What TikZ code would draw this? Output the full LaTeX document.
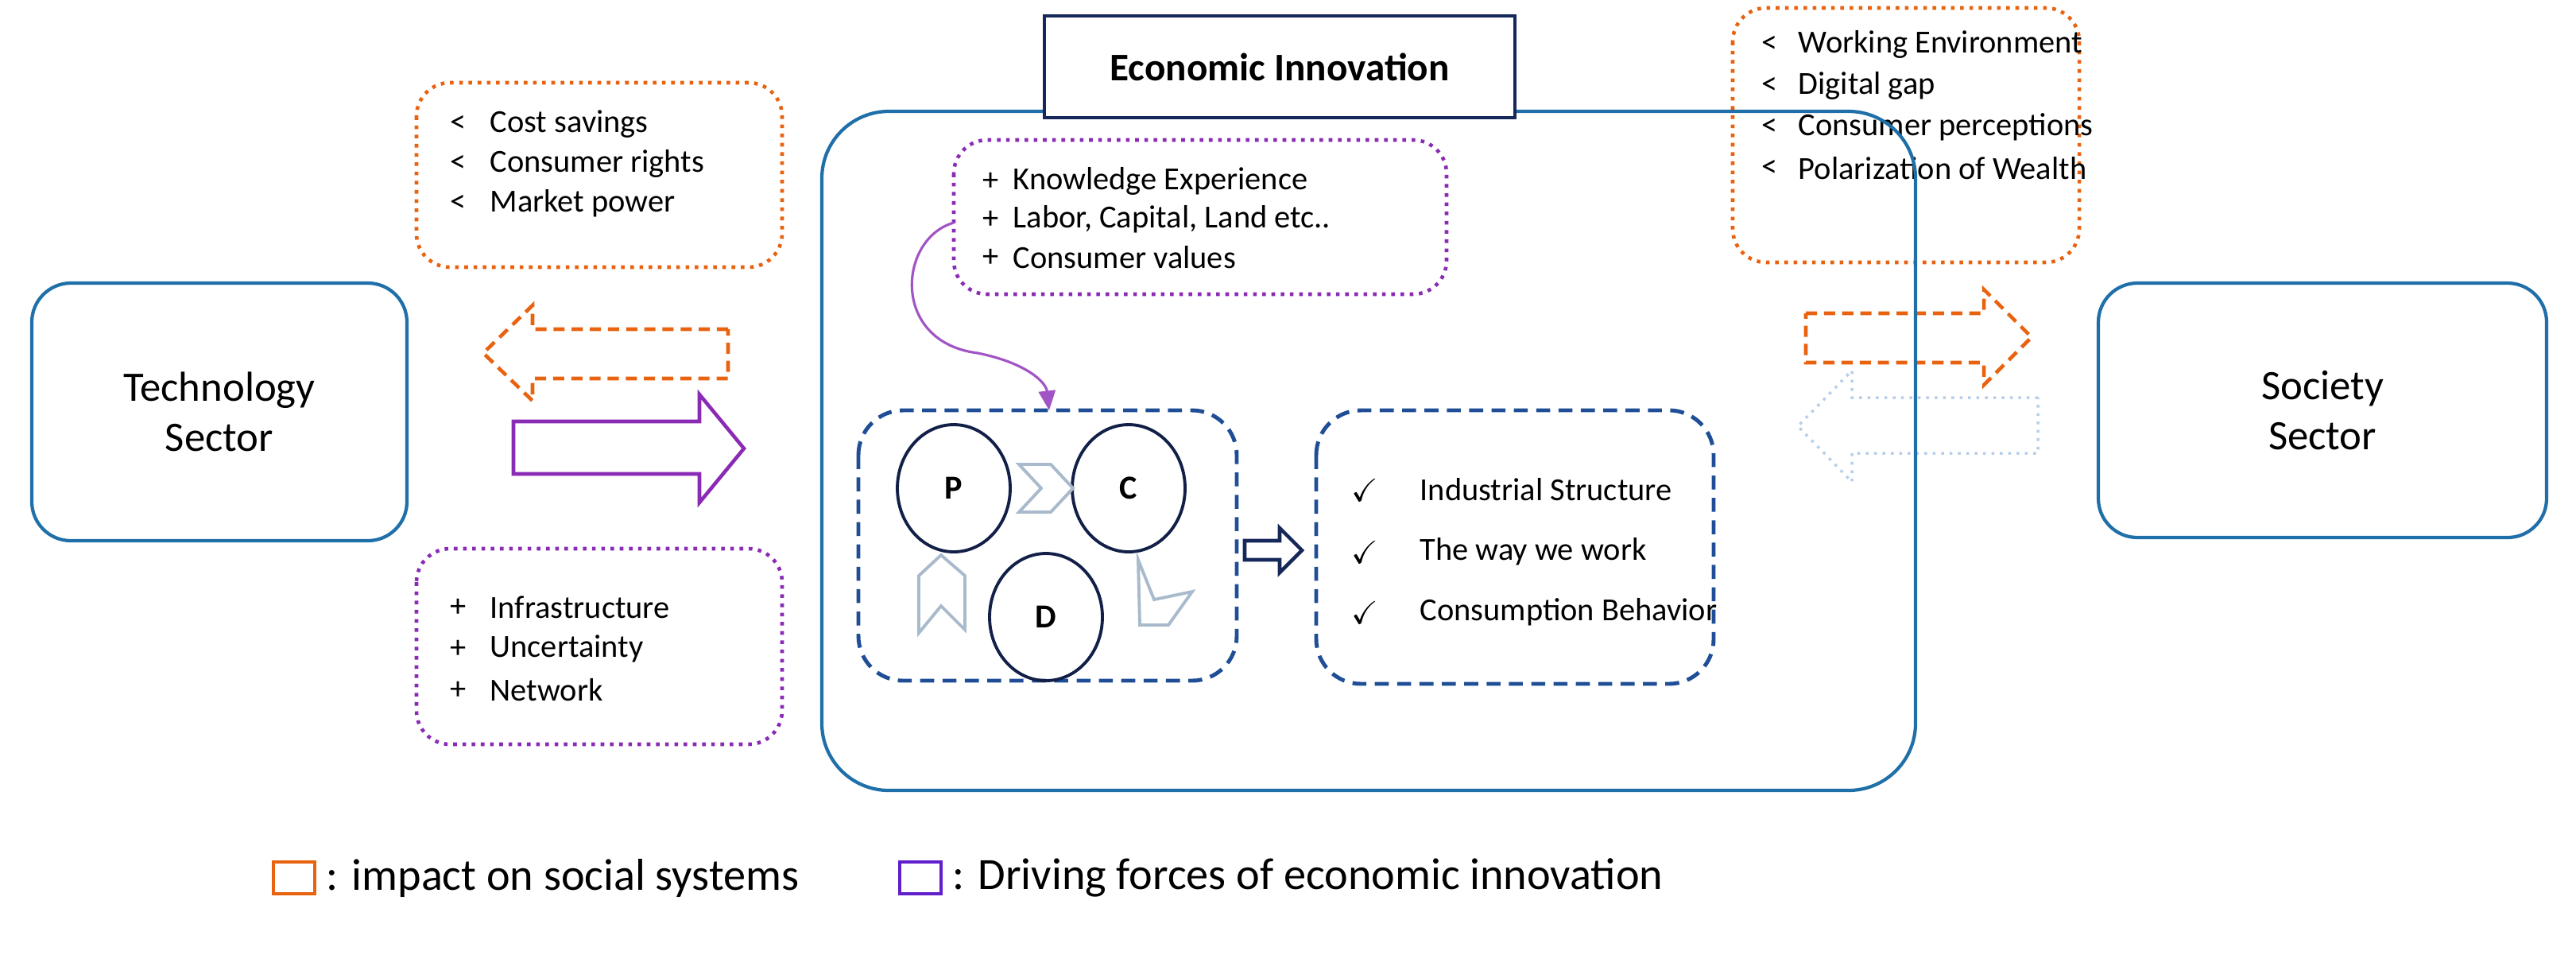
\documentclass[tikz,border=0pt]{standalone}
\usepackage{amssymb}
\usepackage{fontspec}
\setmainfont{Carlito}
\usetikzlibrary{arrows.meta,shapes.geometric}
\definecolor{sblue}{HTML}{1F6FA8}
\definecolor{dblue}{HTML}{1F4E96}
\definecolor{navy}{HTML}{16285A}
\definecolor{orng}{HTML}{E8620F}
\definecolor{purp}{HTML}{8A2BB5}
\definecolor{chev}{HTML}{A8BACB}
\definecolor{lblue}{HTML}{B8CFEA}
\tikzset{
 sector/.style={draw=sblue,line width=1.2pt,rounded corners=14pt},
 obox/.style={draw=orng,line width=1.3pt,dotted,rounded corners=12pt},
 pbox/.style={draw=purp,line width=1.3pt,dotted,rounded corners=12pt},
 dbox/.style={draw=dblue,line width=1.4pt,dash pattern=on 5pt off 3pt,rounded corners=16pt},
 big/.style={font=\fontsize{15}{18}\selectfont,align=center},
 lst/.style={font=\fontsize{11.5}{13}\selectfont,anchor=west,inner sep=0},
 circ/.style={draw=navy!80!black,line width=1.1pt,ellipse,minimum width=1.42cm,minimum height=1.6cm,font=\bfseries\fontsize{12}{14}\selectfont},
 chv/.style={draw=chev,line width=1.1pt,line join=miter},
}
\begin{document}
\begin{tikzpicture}[x=0.02cm,y=-0.02cm]
\useasboundingbox (0,0) rectangle (1620.5,600);
% sectors
\draw[sector] (20,178) rectangle (256,340);
\node[big] (tech) at (138,259) {Technology\\Sector};
\draw[sector] (1320,178) rectangle (1602,338);
\node[big] (soc) at (1461,258) {Society\\Sector};
% left boxes
\draw[obox] (262,52) rectangle (492,168);
\foreach \y/\t [count=\i] in {78/Cost savings,103/Consumer rights,128/Market power}{
 \node[lst] (cl\i) at (283,\y) {<};
 \node[lst] (ctl\i) at (308,\y) {\t};}
\draw[pbox] (262,345) rectangle (492,468);
\foreach \y/\t [count=\i] in {382/Infrastructure,408/Uncertainty,434/Network}{
 \node[lst] (pl\i) at (283,\y) {+};
 \node[lst] (ptl\i) at (308,\y) {\t};}
% left arrows
\draw[orng,line width=1.3pt,dash pattern=on 4pt off 2.5pt,line join=miter]
 (458,207) -- (335,207) -- (335,192) -- (304,222) -- (335,252) -- (335,238) -- (458,238) -- cycle;
\draw[purp,line width=1.3pt,line join=miter]
 (323,265) -- (440,265) -- (440,248) -- (468,282) -- (440,316) -- (440,298) -- (323,298) -- cycle;
% right arrows
\draw[orng,line width=1.3pt,dash pattern=on 4pt off 2.5pt,line join=miter]
 (1136,197) -- (1248,197) -- (1248,182) -- (1278,212) -- (1248,242) -- (1248,228) -- (1136,228) -- cycle;
\draw[lblue,line width=1pt,dotted,line join=miter]
 (1282,250) -- (1165,250) -- (1165,233) -- (1131,268) -- (1165,303) -- (1165,285) -- (1282,285) -- cycle;
\draw[obox] (1090,5) rectangle (1308,165);
\foreach \y/\t [count=\i] in {28/Working Environment,54/Digital gap,80/Consumer perceptions,106/Polarization of Wealth}{
 \node[lst] (rl\i) at (1108,\y) {<};
 \node[lst] (rtl\i) at (1131,\y) {\t};}
% main box
\draw[sector,rounded corners=24pt] (517,70) rectangle (1205,497);
\node[draw=navy,line width=1.3pt,fill=white,minimum width=5.92cm,minimum height=1.28cm,font=\bfseries\fontsize{14}{16}\selectfont] (title) at (805,42) {Economic Innovation};
\draw[pbox] (600,88) rectangle (910,185);
\foreach \y/\t [count=\i] in {114/Knowledge Experience,138/{Labor, Capital, Land etc..},162/Consumer values}{
 \node[lst] (kl\i) at (618,\y) {+};
 \node[lst] (ktl\i) at (637,\y) {\t};}
\coordinate (cs) at (600,140);
\coordinate (ce) at (660,258);
\draw[purp!80,line width=0.9pt,-{Triangle[length=7pt,width=6pt]}] (cs) .. controls (565,150) and (560,215) .. (615,222) .. controls (645,228) and (658,240) .. (ce);
% PDC
\draw[dbox] (540,258) rectangle (778,428);
\node[circ] (P) at (600,307) {P};
\node[circ] (C) at (710,307) {C};
\node[circ] (D) at (658,388) {D};
\draw[chv] (641,292) -- (661,292) -- (675,307) -- (661,322) -- (641,322) -- (655,307) -- cycle;
\draw[chv] (578,398) -- (578,362) -- (592,349) -- (607,362) -- (607,396) -- (592,381) -- cycle;
\draw[chv] (716,352) -- (717,393) -- (735,393) -- (750,372) -- (726,377) -- cycle;
\draw[navy,line width=1.3pt,line join=miter] (783,340) -- (805,340) -- (805,332) -- (819,346) -- (805,360) -- (805,352) -- (783,352) -- cycle;
% right dashed box
\draw[dbox] (828,258) rectangle (1078,430);
\foreach \y/\t [count=\i] in {308/Industrial Structure,347/The way we work,385/Consumption Behavior}{
 \node[lst] (ck\i) at (850,\y) {$\checkmark$};
 \node[lst] (ckt\i) at (893,\y) {\t};}
% legend
\draw[orng,line width=1.3pt] (172,542) rectangle (198,562);
\node[anchor=west,font=\fontsize{16}{18}\selectfont,inner sep=0] (lg1) at (205,552) {: impact on social systems};
\draw[purp!70!blue,line width=1.3pt] (566,542) rectangle (592,562);
\node[anchor=west,font=\fontsize{16}{18}\selectfont,inner sep=0] (lg2) at (599,552) {: Driving forces of economic innovation};
\end{tikzpicture}
\end{document}
